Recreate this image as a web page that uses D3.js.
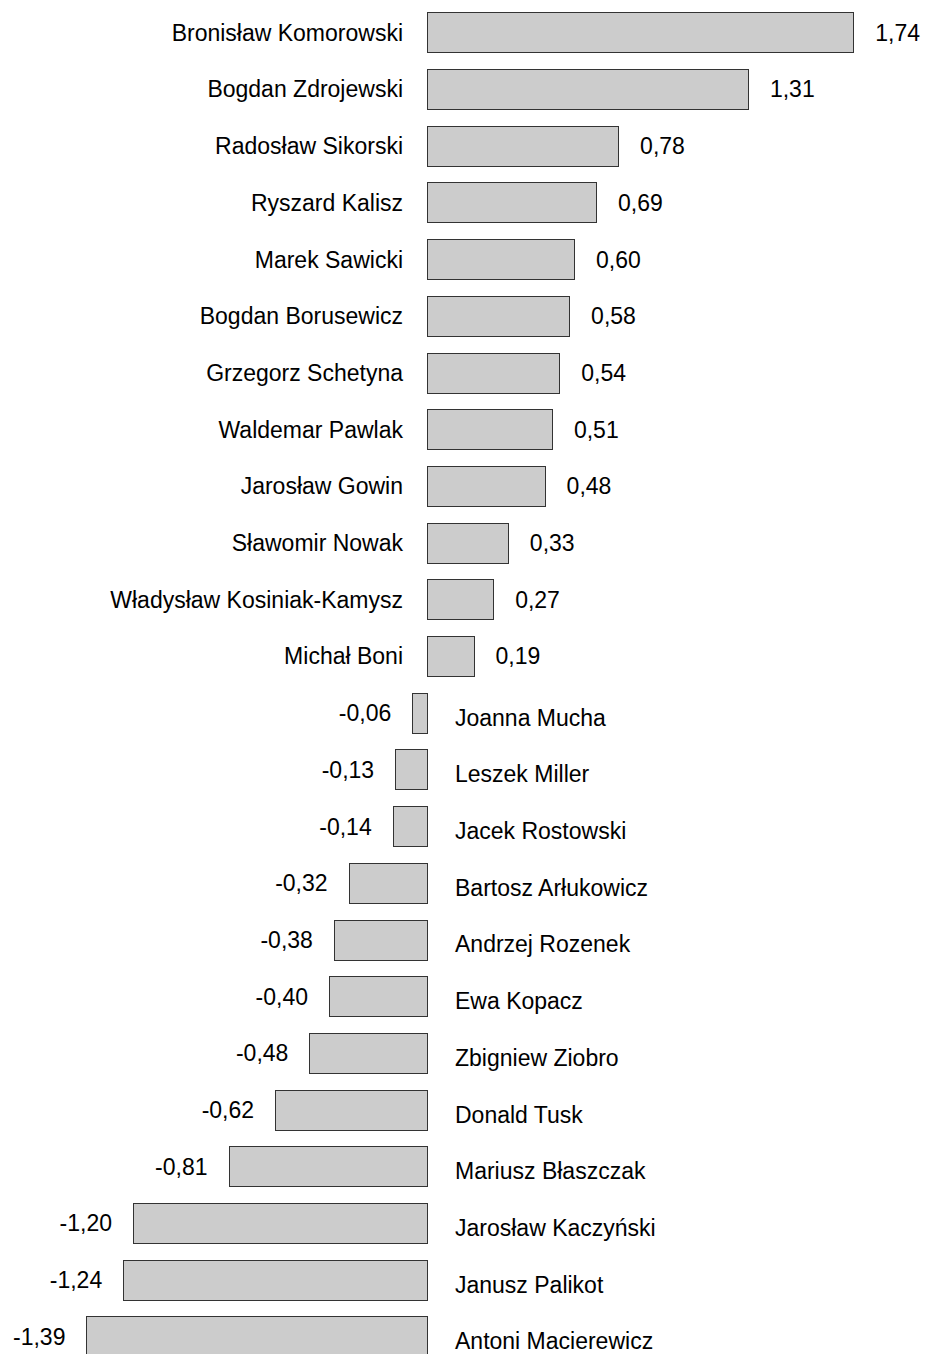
<!DOCTYPE html>
<html><head><meta charset="utf-8">
<script src="https://cdn.jsdelivr.net/npm/d3@7"></script>
<style>body{margin:0;background:#fff}svg{display:block}text{font-family:"Liberation Sans",Arial,sans-serif;font-size:23px;fill:#000}</style>
</head><body>
<svg id="c" width="926" height="1354"></svg>
<script>
const names = ["Bronisław Komorowski","Bogdan Zdrojewski","Radosław Sikorski","Ryszard Kalisz","Marek Sawicki","Bogdan Borusewicz","Grzegorz Schetyna","Waldemar Pawlak","Jarosław Gowin","Sławomir Nowak","Władysław Kosiniak-Kamysz","Michał Boni","Joanna Mucha","Leszek Miller","Jacek Rostowski","Bartosz Arłukowicz","Andrzej Rozenek","Ewa Kopacz","Zbigniew Ziobro","Donald Tusk","Mariusz Błaszczak","Jarosław Kaczyński","Janusz Palikot","Antoni Macierewicz"];
const values = [1.74,1.31,0.78,0.69,0.60,0.58,0.54,0.51,0.48,0.33,0.27,0.19,-0.06,-0.13,-0.14,-0.32,-0.38,-0.40,-0.48,-0.62,-0.81,-1.20,-1.24,-1.39];

const data = names.map((n,i)=>({name:n,value:values[i]}));
const svg = d3.select("#c");
const x = d3.scaleLinear().domain([-1.5,1.8]).range([427-1.5*245, 427+1.8*245]);
const y = d3.scaleBand().domain(names).range([3.94, 3.94+24*56.7]).paddingInner(0.295).paddingOuter(0.1475);
const fmt = v => d3.format(".2f")(v).replace(".",",").replace("−","-");

const g = svg.append("g");
const rows = g.selectAll("g.row").data(data).join("g").attr("class","row");
rows.append("rect")
  .attr("x", d=>Math.round(Math.min(x(0),x(d.value)))+0.5)
  .attr("y", d=>Math.round(y(d.name))+0.5)
  .attr("width", d=>Math.round(Math.abs(x(d.value)-x(0))))
  .attr("height", Math.round(y.bandwidth()))
  .attr("fill","#cccccc").attr("stroke","#333").attr("stroke-width",1);

rows.append("text")
  .attr("x", d=> d.value>=0 ? x(0)-24 : x(0)+28)
  .attr("y", d=> y(d.name)+y.bandwidth()/2 + (d.value>=0 ? 8.5 : 13))
  .attr("text-anchor", d=> d.value>=0 ? "end" : "start")
  .text(d=>d.name);

rows.append("text")
  .attr("x", d=> d.value>=0 ? x(d.value)+22 : x(d.value)-21)
  .attr("y", d=> y(d.name)+y.bandwidth()/2 + 8.5)
  .attr("text-anchor", d=> d.value>=0 ? "start" : "end")
  .text(d=>fmt(d.value));
</script>
</body></html>
